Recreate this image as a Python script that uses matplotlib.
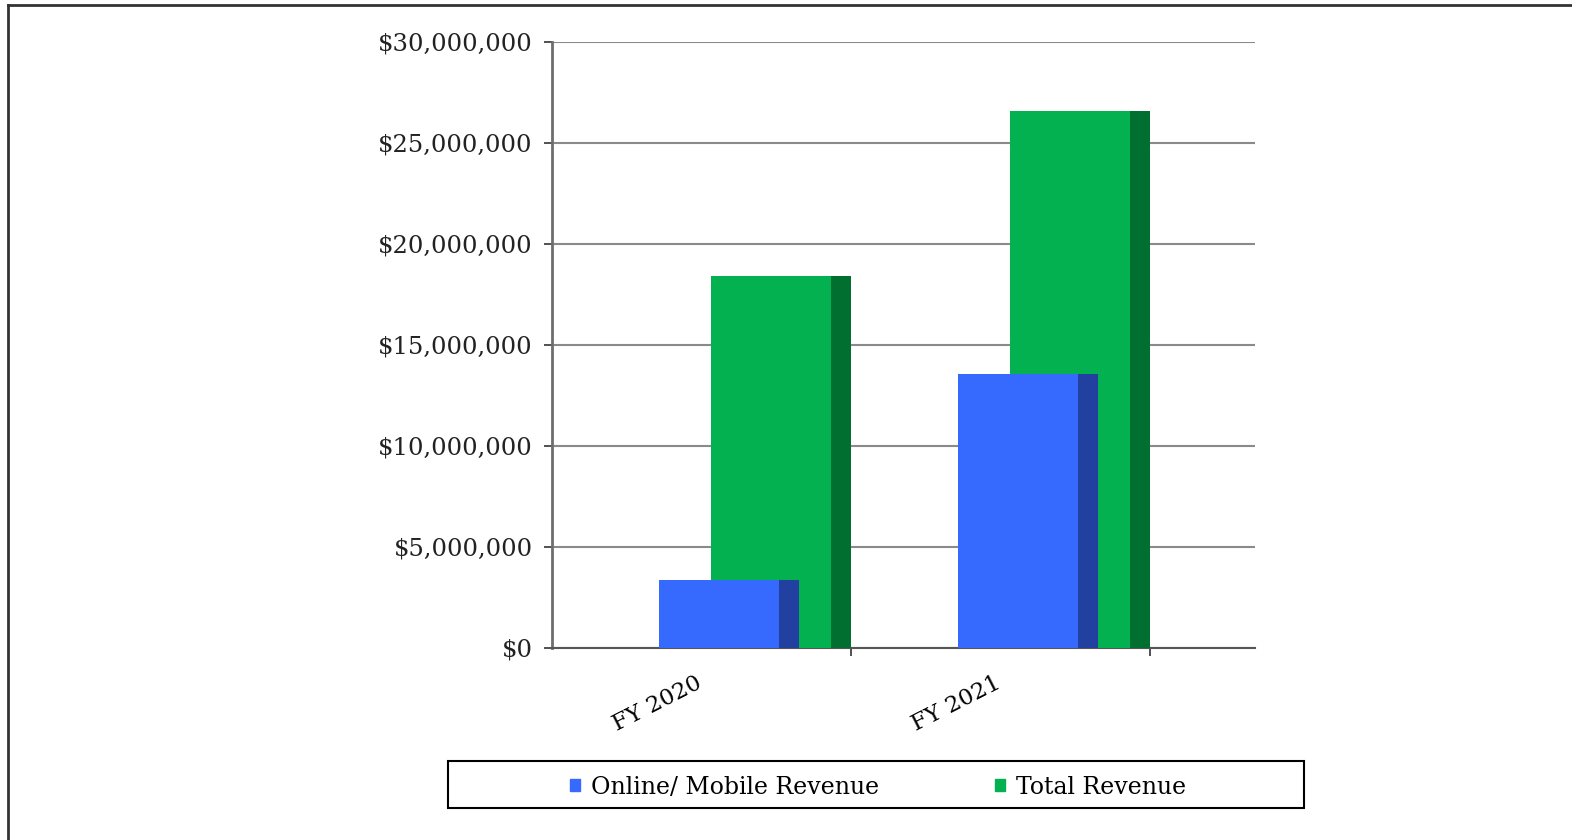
#!/usr/bin/env python3
"""Online/mobile vs total revenue, FY 2020-2021, Excel-style 3D bars."""

import matplotlib.pyplot as plt
import matplotlib.patches as mpatches
from matplotlib.lines import Line2D
from matplotlib.ticker import FuncFormatter, FixedLocator

CATEGORIES = ["FY 2020", "FY 2021"]
SERIES = ["Online/ Mobile Revenue", "Total Revenue"]
ONLINE = [3_370_000, 13_560_000]
TOTAL = [18_410_000, 26_590_000]

FRONT = {"Online/ Mobile Revenue": "#366AFE", "Total Revenue": "#03B151"}
SIDE = {"Online/ Mobile Revenue": "#2140A0", "Total Revenue": "#016F2F"}

FONT = "DejaVu Serif"
W, H = 1572, 840

fig = plt.figure(figsize=(W / 100, H / 100), dpi=100)
ax = fig.add_axes([552 / W, (H - 648) / H, 703 / W, 606.4 / H])

# bar geometry in category units (category width = 1)
front_w = 0.40
side_w = 0.068
offsets = {"Online/ Mobile Revenue": 0.358, "Total Revenue": 0.532}

for name, vals in [("Total Revenue", TOTAL), ("Online/ Mobile Revenue", ONLINE)]:
    xs = [i + offsets[name] for i in range(len(CATEGORIES))]
    ax.bar(xs, vals, width=front_w, align="edge", color=FRONT[name],
           linewidth=0, zorder=3)
    ax.bar([x + front_w for x in xs], vals, width=side_w, align="edge",
           color=SIDE[name], linewidth=0, zorder=3)

ax.set_xlim(0, 703 / 299)
ax.set_ylim(0, 30_000_000)
ax.set_yticks(range(0, 30_000_001, 5_000_000))
ax.yaxis.set_major_formatter(FuncFormatter(lambda v, p: f"${v:,.0f}"))
ax.yaxis.grid(True, color="#8a8a8a", linewidth=1.5, zorder=0)
ax.set_axisbelow(True)

# category boundaries get tick marks, labels sit at category centres
ax.xaxis.set_major_locator(FixedLocator([1, 2]))
ax.xaxis.set_minor_locator(FixedLocator([0.48, 1.48]))
ax.set_xticklabels([], minor=False)
ax.set_xticklabels(CATEGORIES, minor=True, rotation=27, ha="right",
                   rotation_mode="anchor", fontfamily=FONT, fontsize=16.5)
ax.tick_params(axis="x", which="minor", length=0, pad=17)
ax.tick_params(axis="x", which="major", length=6, width=1.2, color="#333333")
ax.tick_params(axis="y", length=6, width=1.2, color="#333333", pad=8,
               labelsize=17.5)
for lbl in ax.get_yticklabels():
    lbl.set_fontfamily(FONT)
    lbl.set_color("#222222")

for side in ("top", "right"):
    ax.spines[side].set_visible(False)
ax.spines["left"].set_color("#6e6e6e")
ax.spines["left"].set_linewidth(2)
ax.spines["bottom"].set_color("#555555")
ax.spines["bottom"].set_linewidth(1.5)

# legend box
fig.add_artist(mpatches.Rectangle((448 / W, (H - 808) / H), 856 / W, 47 / H,
                                  transform=fig.transFigure, fill=False,
                                  edgecolor="black", linewidth=1.5))
handles = [mpatches.Patch(color=FRONT[s], label=s) for s in SERIES]
fig.legend(handles=handles, loc="center", ncol=2, frameon=False,
           bbox_to_anchor=(878 / W, (H - 787) / H),
           prop={"family": FONT, "size": 17}, handlelength=0.45,
           handleheight=0.45, handletextpad=0.45, columnspacing=4.9)

# outer frame (only top and left edges show)
fig.add_artist(Line2D([8 / W, 1], [1 - 5 / H, 1 - 5 / H],
                      transform=fig.transFigure, color="#333333", linewidth=2))
fig.add_artist(Line2D([8 / W, 8 / W], [0, 1 - 5 / H],
                      transform=fig.transFigure, color="#333333", linewidth=2))

fig.savefig("out.png", dpi=100)
